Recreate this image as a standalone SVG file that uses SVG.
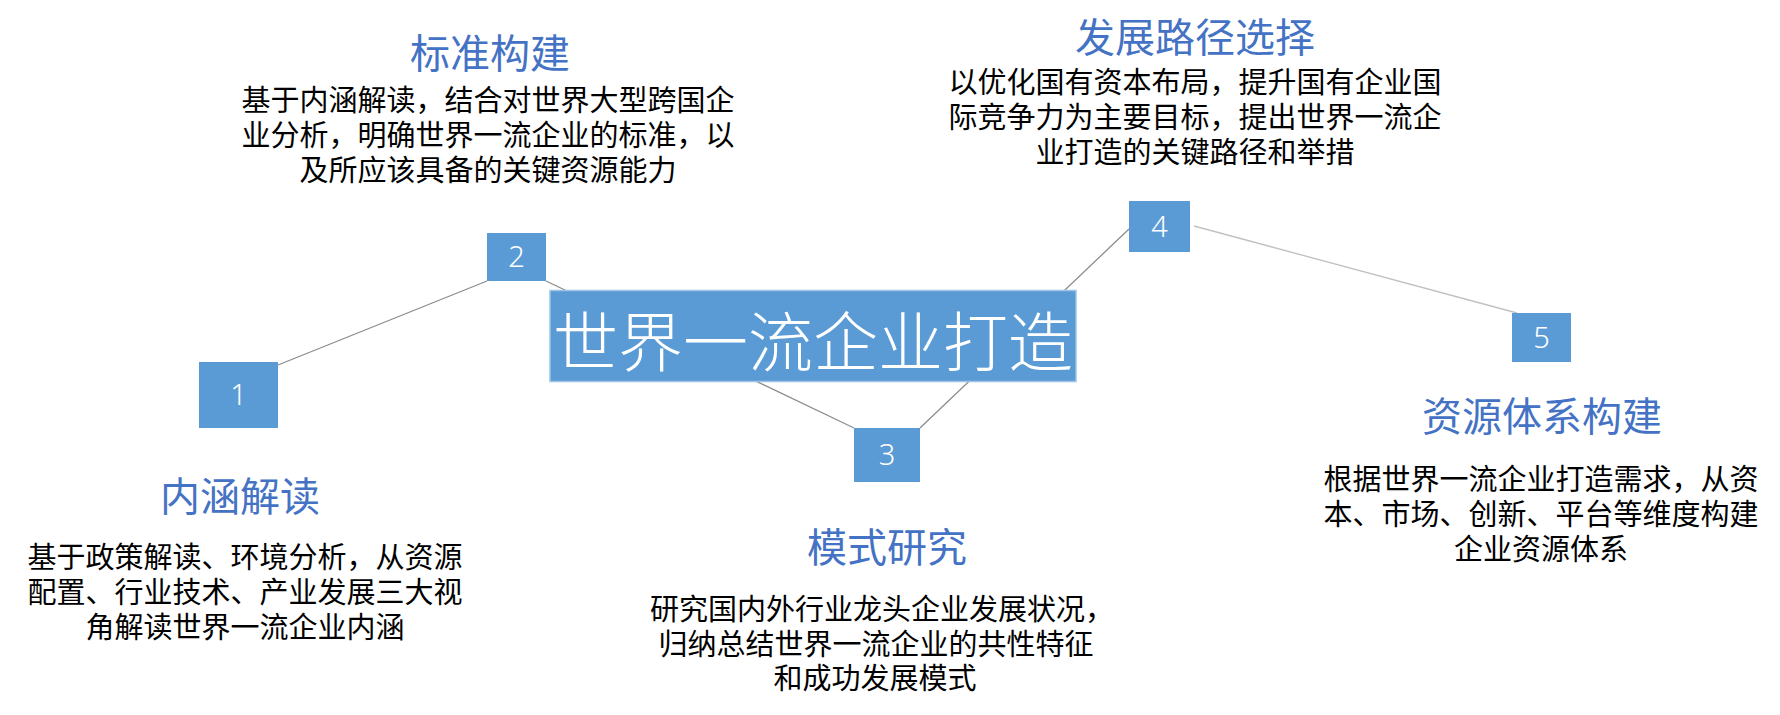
<svg xmlns="http://www.w3.org/2000/svg" width="1780" height="715" viewBox="0 0 1780 715">
<style>
.box{fill:#5B9BD5}
.num{font-family:"Noto Sans","Open Sans",sans-serif;font-weight:300;font-size:29px;fill:#fff;text-anchor:middle}
.title{font-family:"Noto Sans CJK SC",sans-serif;font-size:40px;fill:#4472C4;text-anchor:middle}
.body{font-family:"Noto Sans CJK SC",sans-serif;font-size:29px;fill:#000;text-anchor:middle}
.ln{stroke:#8c8c8c;stroke-width:1.3;fill:none}
.ln2{stroke:#c0c0c0;stroke-width:1.3;fill:none}
</style>
<rect width="1780" height="715" fill="#fff"/>
<g id="connectors">
<line class="ln" x1="487" y1="281" x2="278" y2="365"/>
<line class="ln" x1="546" y1="281" x2="854" y2="428"/>
<line class="ln" x1="920" y1="428" x2="1129" y2="229"/>
<line class="ln2" x1="1194" y1="226" x2="1517" y2="313"/>
</g>
<g id="center">
<rect x="550" y="290.5" width="526" height="91" fill="#5B9BD5" stroke="#9DC3E6" stroke-width="1.5"/>
<text x="813" y="366" font-family="Noto Sans CJK SC,sans-serif" font-weight="300" font-size="65" fill="#fff" text-anchor="middle">世界一流企业打造</text>
</g>
<g id="node1">
<rect class="box" x="199" y="362" width="79" height="66"/>
<text class="num" x="238.5" y="405">1</text>
<text class="title" x="240" y="511">内涵解读</text>
<text class="body" x="245" y="568">基于政策解读、环境分析，从资源</text>
<text class="body" x="245" y="603">配置、行业技术、产业发展三大视</text>
<text class="body" x="245" y="638">角解读世界一流企业内涵</text>
</g>
<g id="node2">
<rect class="box" x="487" y="233" width="59" height="48"/>
<text class="num" x="516.5" y="267">2</text>
<text class="title" x="490" y="68">标准构建</text>
<text class="body" x="488" y="111">基于内涵解读，结合对世界大型跨国企</text>
<text class="body" x="488" y="146">业分析，明确世界一流企业的标准，以</text>
<text class="body" x="488" y="181">及所应该具备的关键资源能力</text>
</g>
<g id="node3">
<rect class="box" x="854" y="428" width="66" height="54"/>
<text class="num" x="887" y="465">3</text>
<text class="title" x="887" y="562">模式研究</text>
<text class="body" x="882" y="620">研究国内外行业龙头企业发展状况，</text>
<text class="body" x="876" y="655">归纳总结世界一流企业的共性特征</text>
<text class="body" x="875" y="689">和成功发展模式</text>
</g>
<g id="node4">
<rect class="box" x="1129" y="201" width="61" height="51"/>
<text class="num" x="1159.5" y="237">4</text>
<text class="title" x="1195" y="52">发展路径选择</text>
<text class="body" x="1195" y="93">以优化国有资本布局，提升国有企业国</text>
<text class="body" x="1195" y="128">际竞争力为主要目标，提出世界一流企</text>
<text class="body" x="1195" y="163">业打造的关键路径和举措</text>
</g>
<g id="node5">
<rect class="box" x="1512" y="313" width="59" height="49"/>
<text class="num" x="1541.5" y="348">5</text>
<text class="title" x="1542" y="431">资源体系构建</text>
<text class="body" x="1541" y="490">根据世界一流企业打造需求，从资</text>
<text class="body" x="1541" y="525">本、市场、创新、平台等维度构建</text>
<text class="body" x="1541" y="560">企业资源体系</text>
</g>
</svg>
